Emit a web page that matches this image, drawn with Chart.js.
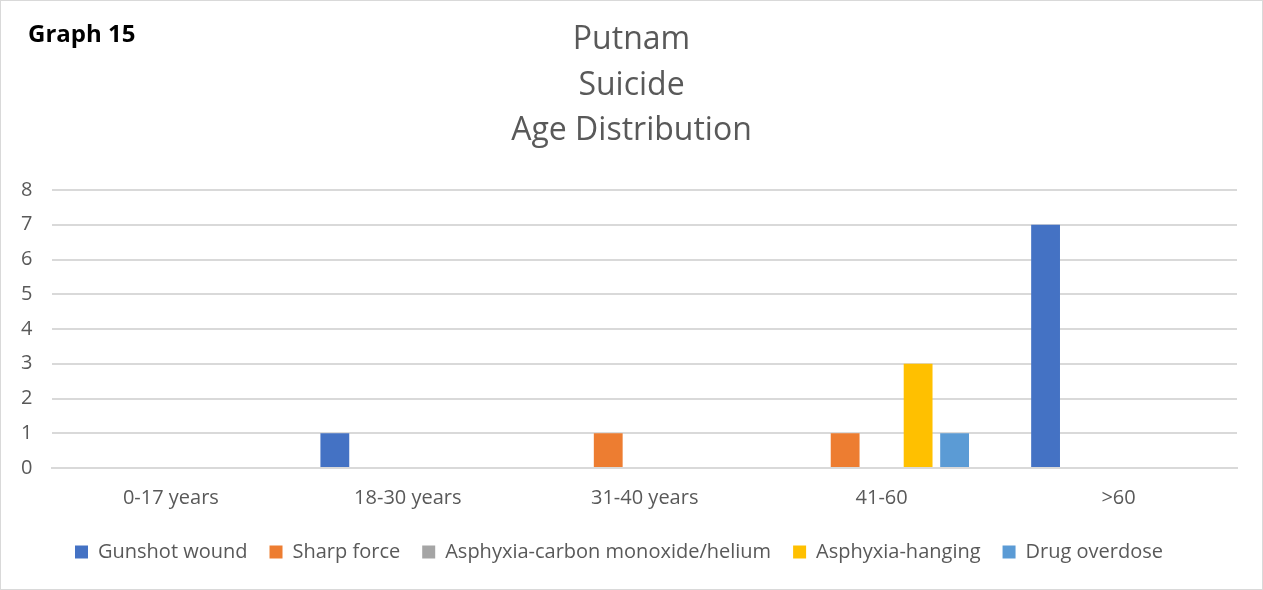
<!DOCTYPE html>
<html>
<head>
<meta charset="utf-8">
<script src="https://cdn.jsdelivr.net/npm/chart.js@4"></script>
<style>
  html, body { margin: 0; padding: 0; background: #fff; }
  #wrap { position: relative; width: 1261px; height: 588px; border: 1px solid #d9d9d9; }
  #graphLabel { position: absolute; left: 27px; top: 15px; font: bold 24px "Open Sans", sans-serif; color: #000; }
  #chartTitle { position: absolute; left: 0; top: 13px; width: 100%; text-align: center;
                font: 32px/45.5px "Open Sans", sans-serif; color: #595959; }
</style>
</head>
<body>
<div id="wrap">
  <div id="graphLabel">Graph 15</div>
  <div id="chartTitle">Putnam<br>Suicide<br>Age Distribution</div>
  <canvas id="chartSuicide" width="1261" height="588"></canvas>
</div>
<script>
// ===== Data =====
const categories = ['0-17 years', '18-30 years', '31-40 years', '41-60', '>60'];
const gunshotWound = [0, 1, 0, 0, 7];
const sharpForce = [0, 0, 1, 1, 0];
const asphyxiaCO = [0, 0, 0, 0, 0];
const asphyxiaHanging = [0, 0, 0, 3, 0];
const drugOverdose = [0, 0, 0, 1, 0];
const yTicks = [0, 1, 2, 3, 4, 5, 6, 7, 8];

const fontFamily = '"Open Sans", sans-serif';

document.addEventListener("DOMContentLoaded", function () {
    const ctx = document.getElementById('chartSuicide');
    new Chart(ctx, {
        type: 'bar',
        data: {
            labels: categories,
            datasets: [
                { label: 'Gunshot wound', data: gunshotWound, backgroundColor: '#4472c4' },
                { label: 'Sharp force', data: sharpForce, backgroundColor: '#ed7d31' },
                { label: 'Asphyxia-carbon monoxide/helium', data: asphyxiaCO, backgroundColor: '#a5a5a5' },
                { label: 'Asphyxia-hanging', data: asphyxiaHanging, backgroundColor: '#ffc000' },
                { label: 'Drug overdose', data: drugOverdose, backgroundColor: '#5b9bd5' }
            ]
        },
        options: {
            responsive: false,
            animation: false,
            datasets: {
                bar: { categoryPercentage: 0.77, barPercentage: 0.79 }
            },
            layout: {
                padding: { top: 189, left: 0, right: 25, bottom: 17 }
            },
            plugins: {
                title: { display: false },
                legend: {
                    position: 'bottom',
                    labels: {
                        color: '#595959',
                        font: { family: fontFamily, size: 20 },
                        boxWidth: 13,
                        boxHeight: 13,
                        padding: 22
                    }
                },
                tooltip: { enabled: false }
            },
            scales: {
                x: {
                    grid: { display: false },
                    border: { color: '#d9d9d9', width: 2 },
                    ticks: {
                        color: '#595959',
                        font: { family: fontFamily, size: 20 },
                        padding: 10
                    }
                },
                y: {
                    min: 0,
                    max: 8,
                    afterBuildTicks: function (axis) {
                        axis.ticks = yTicks.map(v => ({ value: v }));
                    },
                    grid: { color: '#d9d9d9', lineWidth: 2, drawTicks: false },
                    border: { display: false },
                    ticks: {
                        color: '#595959',
                        font: { family: fontFamily, size: 20 },
                        padding: 20
                    }
                }
            }
        }
    });
});
</script>
</body>
</html>
